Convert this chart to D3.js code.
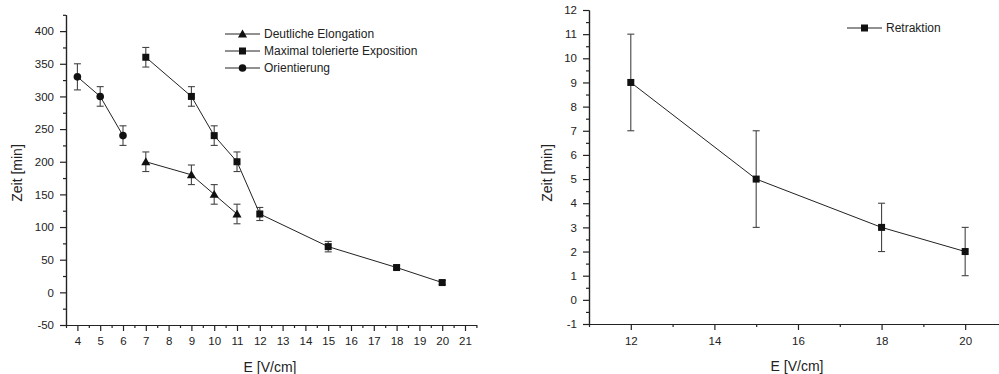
<!DOCTYPE html>
<html>
<head>
<meta charset="utf-8">
<script src="https://cdn.jsdelivr.net/npm/d3@7"></script>
<style>
  body { margin: 0; background: #fff; }
  svg { display: block; font-family: "Liberation Sans", Arial, sans-serif; }
  .axis text { fill: #222; font-size: 11.5px; }
  .axis path, .axis line { stroke: #222; stroke-width: 1.2; }
</style>
</head>
<body>
<svg id="chart" width="999" height="374"></svg>
<script>
// left panel data
const elongX = [7, 9, 10, 11];
const elongY = [200, 180, 150, 120];
const elongErr = [15, 15, 15, 15];

const exposX = [7, 9, 10, 11, 12, 15, 18, 20];
const exposY = [360, 300, 240, 200, 120, 70, 38, 15];
const exposErr = [15, 15, 15, 15, 10, 8, 3, 3];

const orientX = [4, 5, 6];
const orientY = [330, 300, 240];
const orientErr = [20, 15, 15];

const leftXTicks = d3.range(4, 22);
const leftYTicks = [-50, 0, 50, 100, 150, 200, 250, 300, 350, 400];

// right panel data
const retrX = [12, 15, 18, 20];
const retrY = [9, 5, 3, 2];
const retrErr = [2, 2, 1, 1];

const rightXTicks = [12, 14, 16, 18, 20];
const rightYTicks = d3.range(-1, 13);

const svg = d3.select("#chart");
const plain = d => String(d); // hyphen minus like the original

function marker(g, shape, x, y) {
  if (shape === "square") {
    g.append("rect").attr("x", x - 3.5).attr("y", y - 3.5)
      .attr("width", 7).attr("height", 7).attr("fill", "#111");
  } else if (shape === "circle") {
    g.append("circle").attr("cx", x).attr("cy", y).attr("r", 3.8).attr("fill", "#111");
  } else {
    g.append("path").attr("d", d3.symbol(d3.symbolTriangle, 36)())
      .attr("transform", `translate(${x},${y + 0.8})`).attr("fill", "#111");
  }
}

function drawSeries(g, x, y, xs, ys, errs, shape) {
  const pts = xs.map((v, i) => ({ x: v, y: ys[i], e: errs[i] }));
  g.append("path")
    .datum(pts)
    .attr("fill", "none").attr("stroke", "#222").attr("stroke-width", 1)
    .attr("d", d3.line().x(d => x(d.x)).y(d => y(d.y)));
  const eb = g.append("g").attr("stroke", "#444").attr("stroke-width", 1.1);
  pts.forEach(d => {
    const cx = x(d.x), top = y(d.y + d.e), bot = y(d.y - d.e);
    eb.append("line").attr("x1", cx).attr("x2", cx).attr("y1", top).attr("y2", bot);
    eb.append("line").attr("x1", cx - 3.5).attr("x2", cx + 3.5).attr("y1", top).attr("y2", top);
    eb.append("line").attr("x1", cx - 3.5).attr("x2", cx + 3.5).attr("y1", bot).attr("y2", bot);
  });
  pts.forEach(d => marker(g, shape, x(d.x), y(d.y)));
}

function legendRow(g, lx, ly, shape, label) {
  g.append("line").attr("x1", lx).attr("x2", lx + 35).attr("y1", ly).attr("y2", ly)
    .attr("stroke", "#222").attr("stroke-width", 1);
  marker(g, shape, lx + 17.5, ly);
  g.append("text").attr("x", lx + 39).attr("y", ly).attr("dy", "0.35em")
    .attr("fill", "#222").style("font-size", "12px").text(label);
}

// ---- left panel ----
const xL = d3.scaleLinear().domain([3.5, 21.5]).range([66, 476.4]);
const yL = d3.scaleLinear().domain([-50, 425]).range([325, 14.8]);

const gL = svg.append("g");

gL.append("g").attr("class", "axis").attr("transform", "translate(0,325)")
  .call(d3.axisBottom(xL).tickValues(d3.range(3.5, 21.6, 0.5).filter(v => v % 1 !== 0))
    .tickSize(3).tickFormat("").tickSizeOuter(0));
gL.append("g").attr("class", "axis").attr("transform", "translate(0,325)")
  .call(d3.axisBottom(xL).tickValues(leftXTicks).tickFormat(plain).tickSize(6).tickPadding(6).tickSizeOuter(0));

gL.append("g").attr("class", "axis").attr("transform", "translate(66,0)")
  .call(d3.axisLeft(yL).tickValues(d3.range(-25, 426, 50)).tickSize(3).tickFormat("").tickSizeOuter(0));
gL.append("g").attr("class", "axis").attr("transform", "translate(66,0)")
  .call(d3.axisLeft(yL).tickValues(leftYTicks).tickFormat(plain).tickSize(6).tickPadding(6).tickSizeOuter(0));

drawSeries(gL, xL, yL, orientX, orientY, orientErr, "circle");
drawSeries(gL, xL, yL, exposX, exposY, exposErr, "square");
drawSeries(gL, xL, yL, elongX, elongY, elongErr, "triangle");

gL.append("text").attr("x", 270).attr("y", 367).attr("text-anchor", "middle").attr("dy", "0.35em")
  .attr("fill", "#222").style("font-size", "14px").text("E [V/cm]");
gL.append("text").attr("transform", "translate(17,173) rotate(-90)").attr("text-anchor", "middle")
  .attr("dy", "0.35em").attr("fill", "#222").style("font-size", "14px").text("Zeit [min]");

legendRow(gL, 225, 34, "triangle", "Deutliche Elongation");
legendRow(gL, 225, 51, "square", "Maximal tolerierte Exposition");
legendRow(gL, 225, 68, "circle", "Orientierung");

// ---- right panel ----
const xR = d3.scaleLinear().domain([11, 20.8]).range([589, 998.6]);
const yR = d3.scaleLinear().domain([-1, 12]).range([324, 10]);

const gR = svg.append("g");

gR.append("g").attr("class", "axis").attr("transform", "translate(0,324)")
  .call(d3.axisBottom(xR).tickValues([11, 13, 15, 17, 19]).tickSize(3).tickFormat("").tickSizeOuter(0));
gR.append("g").attr("class", "axis").attr("transform", "translate(0,324)")
  .call(d3.axisBottom(xR).tickValues(rightXTicks).tickFormat(plain).tickSize(6).tickPadding(7).tickSizeOuter(0));

gR.append("g").attr("class", "axis").attr("transform", "translate(589,0)")
  .call(d3.axisLeft(yR).tickValues(d3.range(-0.5, 12, 1)).tickSize(3).tickFormat("").tickSizeOuter(0));
gR.append("g").attr("class", "axis").attr("transform", "translate(589,0)")
  .call(d3.axisLeft(yR).tickValues(rightYTicks).tickFormat(plain).tickSize(6).tickPadding(6).tickSizeOuter(0));

drawSeries(gR, xR, yR, retrX, retrY, retrErr, "square");

gR.append("text").attr("x", 797).attr("y", 366).attr("text-anchor", "middle").attr("dy", "0.35em")
  .attr("fill", "#222").style("font-size", "14px").text("E [V/cm]");
gR.append("text").attr("transform", "translate(547,173) rotate(-90)").attr("text-anchor", "middle")
  .attr("dy", "0.35em").attr("fill", "#222").style("font-size", "14px").text("Zeit [min]");

legendRow(gR, 847, 28, "square", "Retraktion");
</script>
</body>
</html>
